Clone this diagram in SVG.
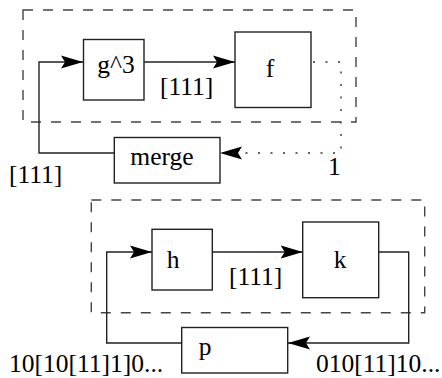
<svg xmlns="http://www.w3.org/2000/svg" width="442" height="378" viewBox="0 0 442 378">
  <defs>
    <marker id="arrow" markerWidth="22" markerHeight="14" refX="22" refY="7" orient="auto" markerUnits="userSpaceOnUse">
      <path d="M0,0.5 L22,7 L0,13.5 L4,7 Z" fill="#000"/>
    </marker>
  </defs>
  <style>
    .box { fill: #fff; stroke: #222; stroke-width: 1.4; }
    .wire { fill: none; stroke: #222; stroke-width: 1.4; }
    .dot { fill: none; stroke: #333; stroke-width: 1.4; stroke-dasharray: 2 10.5; }
    .frame { fill: none; stroke: #444; stroke-width: 1.4; stroke-dasharray: 10 10; }
    text { font-family: "Liberation Serif", "Times New Roman", serif; font-size: 25.5px; fill: #000; }
  </style>
  <rect width="442" height="378" fill="#fff"/>

  <!-- enclosing frames -->
  <g id="frame-top"><rect class="frame" x="23" y="10" width="333" height="112"/></g>
  <g id="frame-bottom"><rect class="frame" x="91.3" y="200" width="333.4" height="112.7"/></g>

  <!-- connectors -->
  <g id="connectors">
    <path class="wire" d="M114,153 H39 V62 H83" marker-end="url(#arrow)"/>
    <path class="wire" d="M144,62 H235" marker-end="url(#arrow)"/>
    <path class="dot" d="M313,62 H341 V153 H222"/>
    <path d="M220,153 L242,146.5 L238,153 L242,159.5 Z" fill="#000"/>
    <path class="wire" d="M181.7,343 H106.7 V252 H152" marker-end="url(#arrow)"/>
    <path class="wire" d="M212.3,252 H302.7" marker-end="url(#arrow)"/>
    <path class="wire" d="M378.7,252 H408.7 V343 H288" marker-end="url(#arrow)"/>
  </g>

  <!-- nodes -->
  <g id="g3"><rect class="box" x="83.5" y="39.5" width="60.5" height="60.5"/><text x="116" y="73" text-anchor="middle">g^3</text></g>
  <g id="f"><rect class="box" x="235" y="32" width="76" height="75.5"/><text x="270" y="77" text-anchor="middle">f</text></g>
  <g id="merge"><rect class="box" x="114.3" y="137.5" width="105.7" height="45.5"/><text x="162" y="165" text-anchor="middle">merge</text></g>
  <g id="h"><rect class="box" x="152" y="229.3" width="60.3" height="60.7"/><text x="173" y="268" text-anchor="middle">h</text></g>
  <g id="k"><rect class="box" x="302.7" y="222" width="76" height="75.7"/><text x="340" y="268" text-anchor="middle">k</text></g>
  <g id="p"><rect class="box" x="181.7" y="327.5" width="106" height="45.5"/><text x="205" y="355" text-anchor="middle">p</text></g>

  <!-- stream labels -->
  <g id="labels">
    <text x="160" y="95">[111]</text>
    <text x="9" y="183">[111]</text>
    <text x="328" y="175">1</text>
    <text x="229" y="285">[111]</text>
    <text x="9" y="372">10[10[11]1]0...</text>
    <text x="316" y="372">010[11]10...</text>
  </g>
</svg>
